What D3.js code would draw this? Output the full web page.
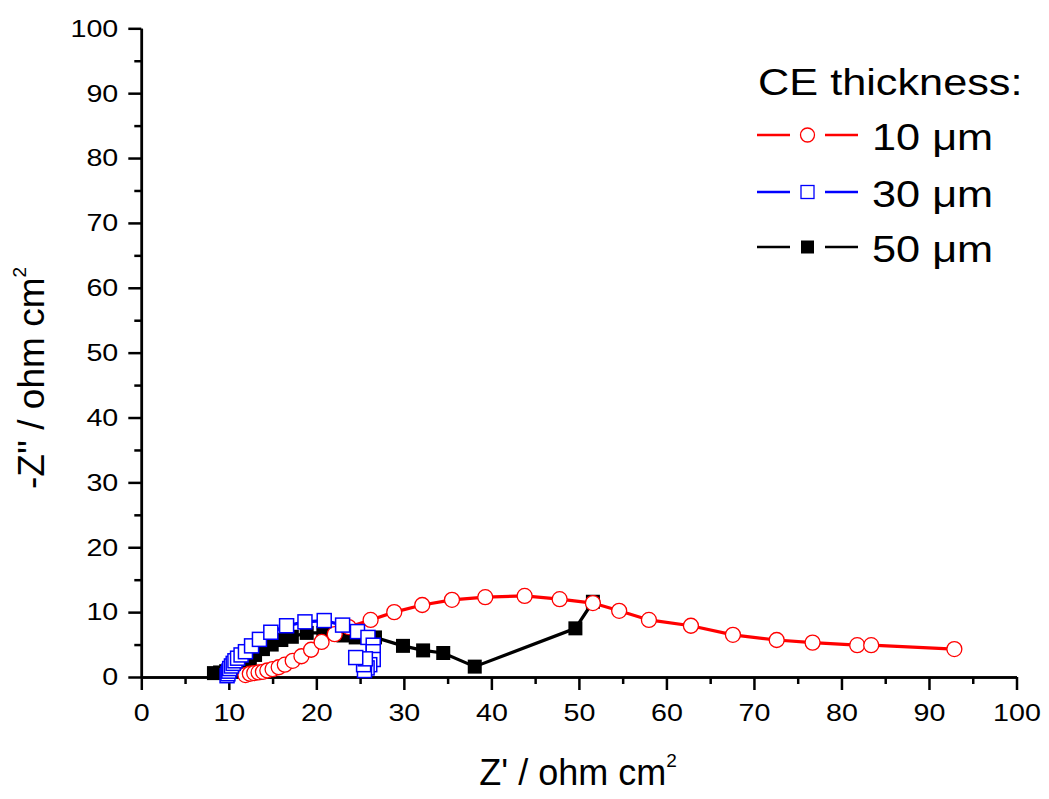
<!DOCTYPE html>
<html>
<head>
<meta charset="utf-8">
<script src="https://cdn.jsdelivr.net/npm/d3@7"></script>
<style>
  html, body { margin: 0; padding: 0; background: #fff; }
  svg { display: block; font-family: "Liberation Sans", Arial, sans-serif; }
</style>
</head>
<body>
<svg id="chart" width="1049" height="799"></svg>
<script>
// Impedance spectra (Nyquist plot) for three counter-electrode thicknesses
const xTicks = [0, 10, 20, 30, 40, 50, 60, 70, 80, 90, 100];
const yTicks = [0, 10, 20, 30, 40, 50, 60, 70, 80, 90, 100];
const minorTicks = [5, 15, 25, 35, 45, 55, 65, 75, 85, 95];

const seriesNames = ["10 \u03bcm", "30 \u03bcm", "50 \u03bcm"];

// [Z', -Z''] in ohm cm^2
const ce10 = [
  [11.9, 0.3], [12.4, 0.5], [12.9, 0.6], [13.4, 0.7], [13.9, 0.8], [14.4, 1.0],
  [15.0, 1.2], [15.7, 1.5], [16.4, 1.9], [17.3, 2.5], [18.3, 3.2], [19.4, 4.2],
  [20.6, 5.4], [22.1, 6.6], [23.7, 7.7], [26.2, 8.8], [28.9, 10.0], [32.1, 11.1],
  [35.5, 11.9], [39.3, 12.3], [43.8, 12.5], [47.8, 12.0], [51.6, 11.4], [54.6, 10.2],
  [58.0, 8.8], [62.8, 7.9], [67.6, 6.5], [72.6, 5.7], [76.7, 5.3], [81.8, 4.9],
  [83.4, 4.9], [92.9, 4.3]
];
const ce30 = [
  [9.8, 0.2], [9.9, 0.5], [10.0, 0.9], [10.1, 1.3], [10.3, 1.7], [10.5, 2.1],
  [10.7, 2.5], [11.0, 2.9], [11.4, 3.4], [11.9, 3.9], [12.6, 4.8], [13.5, 5.8],
  [14.8, 6.9], [16.6, 7.9], [18.7, 8.5], [20.9, 8.7], [23.0, 8.0], [24.7, 7.0],
  [25.9, 6.1], [26.5, 4.9], [26.5, 3.9], [26.5, 2.7], [26.1, 1.9], [25.8, 1.4],
  [25.5, 1.0], [25.4, 1.9], [25.6, 2.8], [24.5, 3.0]
];
const ce50 = [
  [8.3, 0.6], [9.0, 0.7], [9.7, 0.9], [10.4, 1.1], [11.2, 1.5], [11.8, 1.9],
  [12.4, 2.5], [13.0, 3.4], [13.9, 4.3], [14.9, 5.0], [16.0, 5.7], [17.2, 6.2],
  [18.9, 6.8], [20.8, 6.8], [23.1, 6.4], [24.5, 6.1], [26.7, 6.1], [29.9, 4.8],
  [32.2, 4.1], [34.5, 3.7], [38.1, 1.6], [49.6, 7.5], [51.6, 11.6]
];

const svg = d3.select("#chart");

const plotLeft = 141.3, plotRight = 1016.5, plotTop = 28.3, plotBottom = 677;
const x = d3.scaleLinear().domain([0, 100]).range([plotLeft, plotRight]);
const y = d3.scaleLinear().domain([0, 100]).range([plotBottom, plotTop]);

const tickFont = 24.5;
const wide = 1.17;   // horizontal stretch of the lettering

// ---- axes ----
function styleAxis(g) {
  g.selectAll("path.domain").attr("stroke", "#000").attr("stroke-width", 2.5);
  g.selectAll(".tick line").attr("stroke", "#000").attr("stroke-width", 2.5);
  g.selectAll("text").attr("fill", "#000").attr("font-size", tickFont)
    .attr("font-family", "'Liberation Sans', Arial, sans-serif")
    .each(function () {
      const t = d3.select(this);
      const tx = +t.attr("x") || 0;
      t.attr("x", 0).attr("transform", `translate(${tx},0) scale(${wide},1)`);
    });
}

svg.append("g").attr("transform", `translate(0,${plotBottom})`)
  .call(d3.axisBottom(x).tickValues(xTicks).tickSize(13).tickSizeOuter(0)
    .tickPadding(14).tickFormat(d3.format("d")))
  .call(styleAxis);
svg.append("g").attr("transform", `translate(0,${plotBottom})`)
  .call(d3.axisBottom(x).tickValues(minorTicks).tickSize(7).tickSizeOuter(0).tickFormat(""))
  .call(styleAxis);

svg.append("g").attr("transform", `translate(${plotLeft},0)`)
  .call(d3.axisLeft(y).tickValues(yTicks).tickSize(13).tickSizeOuter(0)
    .tickPadding(10).tickFormat(d3.format("d")))
  .call(styleAxis);
svg.append("g").attr("transform", `translate(${plotLeft},0)`)
  .call(d3.axisLeft(y).tickValues(minorTicks).tickSize(7).tickSizeOuter(0).tickFormat(""))
  .call(styleAxis);

// ---- axis titles ----
const titleFont = 36;
const supFont = 19;
const xt = svg.append("text").attr("x", 578).attr("y", 785)
  .attr("text-anchor", "middle").attr("font-size", titleFont).attr("fill", "#000");
xt.append("tspan").text("Z' / ohm cm");
xt.append("tspan").attr("font-size", supFont).attr("dy", -18).text("2");

const yt = svg.append("text")
  .attr("transform", `translate(44,378) rotate(-90)`)
  .attr("text-anchor", "middle").attr("font-size", titleFont + 1).attr("fill", "#000");
yt.append("tspan").text("-Z'' / ohm cm");
yt.append("tspan").attr("font-size", supFont).attr("dy", -18).text("2");

// ---- series ----
const line = d3.line().x(d => x(d[0])).y(d => y(d[1]));
const sq = 14;

function drawSeries(data, color, shape, filled) {
  const g = svg.append("g");
  g.append("path").datum(data).attr("d", line)
    .attr("fill", "none").attr("stroke", color).attr("stroke-width", 3.2);
  if (shape === "circle") {
    g.selectAll("circle").data(data).join("circle")
      .attr("cx", d => x(d[0])).attr("cy", d => y(d[1])).attr("r", 7.5)
      .attr("fill", "#fff").attr("stroke", color).attr("stroke-width", 1.3);
  } else {
    g.selectAll("rect").data(data).join("rect")
      .attr("x", d => x(d[0]) - sq / 2).attr("y", d => y(d[1]) - sq / 2)
      .attr("width", sq).attr("height", sq)
      .attr("fill", filled ? color : "#fff").attr("stroke", color)
      .attr("stroke-width", filled ? 0 : 1.5);
  }
}

drawSeries(ce50, "#000000", "square", true);
drawSeries(ce10, "#ff0000", "circle", false);
drawSeries(ce30, "#0000ff", "square", false);

// ---- legend ----
const legFont = 37;
const leg = svg.append("g");

function legText(tx, ty, str) {
  leg.append("text").attr("transform", `translate(${tx},${ty}) scale(${wide},1)`)
    .attr("font-size", legFont).attr("fill", "#000").text(str);
}
legText(758, 95, "CE thickness:");

const legItems = [
  { name: seriesNames[0], color: "#ff0000", shape: "circle", filled: false, cy: 135 },
  { name: seriesNames[1], color: "#0000ff", shape: "square", filled: false, cy: 192 },
  { name: seriesNames[2], color: "#000000", shape: "square", filled: true, cy: 247 }
];
legItems.forEach(it => {
  leg.append("line").attr("x1", 757).attr("x2", 790).attr("y1", it.cy).attr("y2", it.cy)
    .attr("stroke", it.color).attr("stroke-width", 2.5);
  leg.append("line").attr("x1", 825).attr("x2", 858).attr("y1", it.cy).attr("y2", it.cy)
    .attr("stroke", it.color).attr("stroke-width", 2.5);
  if (it.shape === "circle") {
    leg.append("circle").attr("cx", 807.5).attr("cy", it.cy).attr("r", 7)
      .attr("fill", "#fff").attr("stroke", it.color).attr("stroke-width", 1.3);
  } else {
    leg.append("rect").attr("x", 807.5 - 6.5).attr("y", it.cy - 6.5)
      .attr("width", 13).attr("height", 13)
      .attr("fill", it.filled ? it.color : "#fff").attr("stroke", it.color)
      .attr("stroke-width", it.filled ? 0 : 1.3);
  }
  legText(872, it.cy + 15, it.name);
});
</script>
</body>
</html>
